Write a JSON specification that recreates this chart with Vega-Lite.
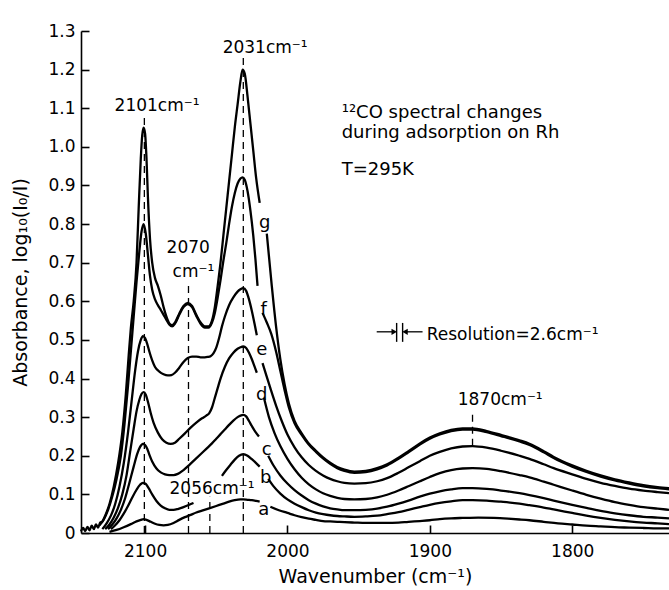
{
"$schema": "https://vega.github.io/schema/vega-lite/v6.json",
"width": 588, "height": 502,
"autosize": {"type": "none"},
"padding": {"left": 81, "top": 31, "right": 0, "bottom": 57},
"config": {
 "view": {"stroke": null},
 "axis": {"grid": false, "domainColor": "black", "tickColor": "black", "labelColor": "black", "titleColor": "black",
  "labelFont": "DejaVu Sans", "titleFont": "DejaVu Sans", "titleFontWeight": "normal", "labelFontSize": 17, "titleFontSize": 19,
  "domainWidth": 1.6, "tickWidth": 1.6, "tickSize": -8},
 "text": {"font": "DejaVu Sans", "color": "black"}
},
"datasets": {
 "spectra": [
{"c":"g","s":1,"x":2145,"y":0.004},{"c":"g","s":1,"x":2143.5,"y":0.013},{"c":"g","s":1,"x":2142,"y":0.005},{"c":"g","s":1,"x":2140.5,"y":0.016},{"c":"g","s":1,"x":2139,"y":0.007},{"c":"g","s":1,"x":2137.5,"y":0.019},{"c":"g","s":1,"x":2136,"y":0.01},{"c":"g","s":1,"x":2134.5,"y":0.022},{"c":"g","s":1,"x":2133,"y":0.014},{"c":"g","s":1,"x":2131.5,"y":0.027},{"c":"g","s":1,"x":2130,"y":0.03},{"c":"g","s":1,"x":2128,"y":0.045},{"c":"g","s":1,"x":2125,"y":0.075},{"c":"g","s":1,"x":2122,"y":0.12},{"c":"g","s":1,"x":2119,"y":0.18},{"c":"g","s":1,"x":2116,"y":0.26},{"c":"g","s":1,"x":2113.5,"y":0.36},{"c":"g","s":1,"x":2111.5,"y":0.46},{"c":"g","s":1,"x":2110,"y":0.53},{"c":"g","s":1,"x":2108,"y":0.6},{"c":"g","s":1,"x":2106,"y":0.7},{"c":"g","s":1,"x":2104.5,"y":0.84},{"c":"g","s":1,"x":2103,"y":0.97},{"c":"g","s":1,"x":2102,"y":1.03},{"c":"g","s":1,"x":2101,"y":1.05},{"c":"g","s":1,"x":2100,"y":1.035},{"c":"g","s":1,"x":2099,"y":0.97},{"c":"g","s":1,"x":2098,"y":0.87},{"c":"g","s":1,"x":2096.5,"y":0.76},{"c":"g","s":1,"x":2095,"y":0.7},{"c":"g","s":1,"x":2093,"y":0.66},{"c":"g","s":1,"x":2091,"y":0.64},{"c":"g","s":1,"x":2089,"y":0.615},{"c":"g","s":1,"x":2087,"y":0.585},{"c":"g","s":1,"x":2085,"y":0.56},{"c":"g","s":1,"x":2083,"y":0.543},{"c":"g","s":1,"x":2081,"y":0.538},{"c":"g","s":1,"x":2079,"y":0.545},{"c":"g","s":1,"x":2076,"y":0.568},{"c":"g","s":1,"x":2073,"y":0.588},{"c":"g","s":1,"x":2070,"y":0.596},{"c":"g","s":1,"x":2067,"y":0.588},{"c":"g","s":1,"x":2064,"y":0.565},{"c":"g","s":1,"x":2061,"y":0.545},{"c":"g","s":1,"x":2058,"y":0.535},{"c":"g","s":1,"x":2055.5,"y":0.535},{"c":"g","s":1,"x":2053,"y":0.55},{"c":"g","s":1,"x":2051,"y":0.585},{"c":"g","s":1,"x":2049,"y":0.64},{"c":"g","s":1,"x":2047,"y":0.7},{"c":"g","s":1,"x":2045,"y":0.77},{"c":"g","s":1,"x":2043,"y":0.84},{"c":"g","s":1,"x":2041,"y":0.91},{"c":"g","s":1,"x":2039,"y":0.98},{"c":"g","s":1,"x":2037,"y":1.05},{"c":"g","s":1,"x":2035,"y":1.11},{"c":"g","s":1,"x":2033,"y":1.17},{"c":"g","s":1,"x":2031.5,"y":1.2},{"c":"g","s":1,"x":2030,"y":1.19},{"c":"g","s":1,"x":2028,"y":1.13},{"c":"g","s":1,"x":2026,"y":1.06},{"c":"g","s":1,"x":2024,"y":0.99},{"c":"g","s":1,"x":2022,"y":0.92},{"c":"g","s":1,"x":2019.5,"y":0.855},
{"c":"g","s":2,"x":2014.5,"y":0.775},{"c":"g","s":2,"x":2011,"y":0.64},{"c":"g","s":2,"x":2008,"y":0.535},{"c":"g","s":2,"x":2005,"y":0.45},{"c":"g","s":2,"x":2002,"y":0.385},{"c":"g","s":2,"x":1999,"y":0.335},{"c":"g","s":2,"x":1995,"y":0.29},{"c":"g","s":2,"x":1990,"y":0.258},{"c":"g","s":2,"x":1985.5,"y":0.234},{"c":"g","s":2,"x":1980,"y":0.213},{"c":"g","s":2,"x":1975,"y":0.196},{"c":"g","s":2,"x":1970,"y":0.182},{"c":"g","s":2,"x":1965,"y":0.171},{"c":"g","s":2,"x":1960,"y":0.164},{"c":"g","s":2,"x":1953,"y":0.159},{"c":"g","s":2,"x":1945,"y":0.161},{"c":"g","s":2,"x":1937,"y":0.168},{"c":"g","s":2,"x":1930,"y":0.178},{"c":"g","s":2,"x":1922,"y":0.195},{"c":"g","s":2,"x":1915,"y":0.212},{"c":"g","s":2,"x":1907,"y":0.232},{"c":"g","s":2,"x":1900,"y":0.247},{"c":"g","s":2,"x":1893,"y":0.258},{"c":"g","s":2,"x":1885,"y":0.267},{"c":"g","s":2,"x":1877,"y":0.271},{"c":"g","s":2,"x":1870,"y":0.271},{"c":"g","s":2,"x":1860,"y":0.264},{"c":"g","s":2,"x":1850,"y":0.254},{"c":"g","s":2,"x":1837,"y":0.24},{"c":"g","s":2,"x":1830,"y":0.231},{"c":"g","s":2,"x":1820,"y":0.212},{"c":"g","s":2,"x":1813,"y":0.197},{"c":"g","s":2,"x":1800,"y":0.175},{"c":"g","s":2,"x":1790,"y":0.161},{"c":"g","s":2,"x":1780,"y":0.149},{"c":"g","s":2,"x":1770,"y":0.139},{"c":"g","s":2,"x":1760,"y":0.131},{"c":"g","s":2,"x":1750,"y":0.124},{"c":"g","s":2,"x":1740,"y":0.119},{"c":"g","s":2,"x":1732,"y":0.116},
{"c":"f","s":1,"x":2132,"y":0.02},{"c":"f","s":1,"x":2129,"y":0.035},{"c":"f","s":1,"x":2126,"y":0.06},{"c":"f","s":1,"x":2123,"y":0.095},{"c":"f","s":1,"x":2120,"y":0.14},{"c":"f","s":1,"x":2117,"y":0.2},{"c":"f","s":1,"x":2114.5,"y":0.28},{"c":"f","s":1,"x":2112,"y":0.38},{"c":"f","s":1,"x":2110,"y":0.47},{"c":"f","s":1,"x":2108,"y":0.56},{"c":"f","s":1,"x":2106,"y":0.65},{"c":"f","s":1,"x":2104,"y":0.73},{"c":"f","s":1,"x":2102.5,"y":0.78},{"c":"f","s":1,"x":2101,"y":0.8},{"c":"f","s":1,"x":2099.5,"y":0.775},{"c":"f","s":1,"x":2098,"y":0.72},{"c":"f","s":1,"x":2096.5,"y":0.665},{"c":"f","s":1,"x":2095,"y":0.63},{"c":"f","s":1,"x":2093,"y":0.605},{"c":"f","s":1,"x":2091,"y":0.59},{"c":"f","s":1,"x":2089,"y":0.578},{"c":"f","s":1,"x":2087,"y":0.565},{"c":"f","s":1,"x":2085,"y":0.552},{"c":"f","s":1,"x":2083,"y":0.54},{"c":"f","s":1,"x":2081,"y":0.535},{"c":"f","s":1,"x":2079,"y":0.542},{"c":"f","s":1,"x":2076,"y":0.565},{"c":"f","s":1,"x":2073,"y":0.585},{"c":"f","s":1,"x":2070,"y":0.593},{"c":"f","s":1,"x":2067,"y":0.585},{"c":"f","s":1,"x":2064,"y":0.562},{"c":"f","s":1,"x":2061,"y":0.542},{"c":"f","s":1,"x":2058,"y":0.532},{"c":"f","s":1,"x":2055.5,"y":0.532},{"c":"f","s":1,"x":2053,"y":0.545},{"c":"f","s":1,"x":2051,"y":0.57},{"c":"f","s":1,"x":2049,"y":0.61},{"c":"f","s":1,"x":2047,"y":0.655},{"c":"f","s":1,"x":2045,"y":0.705},{"c":"f","s":1,"x":2043,"y":0.75},{"c":"f","s":1,"x":2041,"y":0.8},{"c":"f","s":1,"x":2039,"y":0.845},{"c":"f","s":1,"x":2037,"y":0.88},{"c":"f","s":1,"x":2035,"y":0.905},{"c":"f","s":1,"x":2033,"y":0.918},{"c":"f","s":1,"x":2031.5,"y":0.921},{"c":"f","s":1,"x":2030,"y":0.915},{"c":"f","s":1,"x":2028,"y":0.885},{"c":"f","s":1,"x":2026,"y":0.835},{"c":"f","s":1,"x":2024,"y":0.77},{"c":"f","s":1,"x":2022.5,"y":0.71},{"c":"f","s":1,"x":2021,"y":0.64},
{"c":"f","s":2,"x":2017.5,"y":0.57},{"c":"f","s":2,"x":2014.5,"y":0.545},{"c":"f","s":2,"x":2011.3,"y":0.515},{"c":"f","s":2,"x":2008,"y":0.47},{"c":"f","s":2,"x":2005,"y":0.42},{"c":"f","s":2,"x":2002,"y":0.37},{"c":"f","s":2,"x":1999,"y":0.325},{"c":"f","s":2,"x":1995,"y":0.284},{"c":"f","s":2,"x":1990,"y":0.254},{"c":"f","s":2,"x":1985.5,"y":0.231},{"c":"f","s":2,"x":1980,"y":0.21},{"c":"f","s":2,"x":1975,"y":0.193},{"c":"f","s":2,"x":1970,"y":0.179},{"c":"f","s":2,"x":1965,"y":0.168},{"c":"f","s":2,"x":1960,"y":0.161},{"c":"f","s":2,"x":1953,"y":0.156},{"c":"f","s":2,"x":1945,"y":0.158},{"c":"f","s":2,"x":1937,"y":0.165},{"c":"f","s":2,"x":1930,"y":0.175},{"c":"f","s":2,"x":1922,"y":0.192},{"c":"f","s":2,"x":1915,"y":0.209},{"c":"f","s":2,"x":1907,"y":0.229},{"c":"f","s":2,"x":1900,"y":0.244},{"c":"f","s":2,"x":1893,"y":0.255},{"c":"f","s":2,"x":1885,"y":0.264},{"c":"f","s":2,"x":1877,"y":0.268},{"c":"f","s":2,"x":1870,"y":0.268},{"c":"f","s":2,"x":1860,"y":0.261},{"c":"f","s":2,"x":1850,"y":0.251},{"c":"f","s":2,"x":1837,"y":0.237},{"c":"f","s":2,"x":1830,"y":0.228},{"c":"f","s":2,"x":1820,"y":0.209},{"c":"f","s":2,"x":1813,"y":0.194},{"c":"f","s":2,"x":1800,"y":0.172},{"c":"f","s":2,"x":1790,"y":0.158},{"c":"f","s":2,"x":1780,"y":0.146},{"c":"f","s":2,"x":1770,"y":0.136},{"c":"f","s":2,"x":1760,"y":0.128},{"c":"f","s":2,"x":1750,"y":0.121},{"c":"f","s":2,"x":1740,"y":0.116},{"c":"f","s":2,"x":1732,"y":0.113},
{"c":"e","s":1,"x":2130,"y":0.01},{"c":"e","s":1,"x":2127,"y":0.025},{"c":"e","s":1,"x":2124,"y":0.045},{"c":"e","s":1,"x":2121,"y":0.075},{"c":"e","s":1,"x":2118,"y":0.12},{"c":"e","s":1,"x":2115,"y":0.18},{"c":"e","s":1,"x":2112,"y":0.26},{"c":"e","s":1,"x":2109.5,"y":0.34},{"c":"e","s":1,"x":2107,"y":0.42},{"c":"e","s":1,"x":2105,"y":0.47},{"c":"e","s":1,"x":2103,"y":0.5},{"c":"e","s":1,"x":2101.5,"y":0.51},{"c":"e","s":1,"x":2100,"y":0.505},{"c":"e","s":1,"x":2098.5,"y":0.49},{"c":"e","s":1,"x":2097,"y":0.47},{"c":"e","s":1,"x":2095,"y":0.447},{"c":"e","s":1,"x":2093,"y":0.43},{"c":"e","s":1,"x":2090,"y":0.418},{"c":"e","s":1,"x":2087,"y":0.411},{"c":"e","s":1,"x":2084,"y":0.408},{"c":"e","s":1,"x":2081.5,"y":0.409},{"c":"e","s":1,"x":2079,"y":0.415},{"c":"e","s":1,"x":2076,"y":0.428},{"c":"e","s":1,"x":2073,"y":0.443},{"c":"e","s":1,"x":2070,"y":0.453},{"c":"e","s":1,"x":2067,"y":0.457},{"c":"e","s":1,"x":2064,"y":0.457},{"c":"e","s":1,"x":2061,"y":0.455},{"c":"e","s":1,"x":2058,"y":0.455},{"c":"e","s":1,"x":2056,"y":0.456},{"c":"e","s":1,"x":2054,"y":0.458},{"c":"e","s":1,"x":2052,"y":0.465},{"c":"e","s":1,"x":2050,"y":0.48},{"c":"e","s":1,"x":2048,"y":0.505},{"c":"e","s":1,"x":2046,"y":0.535},{"c":"e","s":1,"x":2044,"y":0.56},{"c":"e","s":1,"x":2041,"y":0.59},{"c":"e","s":1,"x":2038,"y":0.61},{"c":"e","s":1,"x":2035,"y":0.625},{"c":"e","s":1,"x":2033,"y":0.631},{"c":"e","s":1,"x":2031,"y":0.634},{"c":"e","s":1,"x":2029,"y":0.627},{"c":"e","s":1,"x":2027,"y":0.605},{"c":"e","s":1,"x":2025,"y":0.575},{"c":"e","s":1,"x":2023,"y":0.54},{"c":"e","s":1,"x":2021.5,"y":0.512},
{"c":"e","s":2,"x":2017.5,"y":0.44},{"c":"e","s":2,"x":2015,"y":0.41},{"c":"e","s":2,"x":2012,"y":0.375},{"c":"e","s":2,"x":2008,"y":0.33},{"c":"e","s":2,"x":2004,"y":0.29},{"c":"e","s":2,"x":2000,"y":0.255},{"c":"e","s":2,"x":1995,"y":0.222},{"c":"e","s":2,"x":1990,"y":0.196},{"c":"e","s":2,"x":1985,"y":0.176},{"c":"e","s":2,"x":1980,"y":0.161},{"c":"e","s":2,"x":1975,"y":0.149},{"c":"e","s":2,"x":1970,"y":0.14},{"c":"e","s":2,"x":1965,"y":0.134},{"c":"e","s":2,"x":1960,"y":0.13},{"c":"e","s":2,"x":1953,"y":0.128},{"c":"e","s":2,"x":1945,"y":0.129},{"c":"e","s":2,"x":1937,"y":0.134},{"c":"e","s":2,"x":1930,"y":0.142},{"c":"e","s":2,"x":1922,"y":0.156},{"c":"e","s":2,"x":1915,"y":0.17},{"c":"e","s":2,"x":1907,"y":0.186},{"c":"e","s":2,"x":1900,"y":0.2},{"c":"e","s":2,"x":1893,"y":0.21},{"c":"e","s":2,"x":1885,"y":0.219},{"c":"e","s":2,"x":1877,"y":0.224},{"c":"e","s":2,"x":1870,"y":0.225},{"c":"e","s":2,"x":1860,"y":0.221},{"c":"e","s":2,"x":1850,"y":0.213},{"c":"e","s":2,"x":1837,"y":0.2},{"c":"e","s":2,"x":1830,"y":0.192},{"c":"e","s":2,"x":1820,"y":0.178},{"c":"e","s":2,"x":1813,"y":0.168},{"c":"e","s":2,"x":1800,"y":0.152},{"c":"e","s":2,"x":1790,"y":0.14},{"c":"e","s":2,"x":1780,"y":0.13},{"c":"e","s":2,"x":1770,"y":0.122},{"c":"e","s":2,"x":1760,"y":0.115},{"c":"e","s":2,"x":1750,"y":0.11},{"c":"e","s":2,"x":1740,"y":0.106},{"c":"e","s":2,"x":1732,"y":0.103},
{"c":"d","s":1,"x":2128,"y":0.01},{"c":"d","s":1,"x":2125,"y":0.022},{"c":"d","s":1,"x":2122,"y":0.04},{"c":"d","s":1,"x":2119,"y":0.065},{"c":"d","s":1,"x":2116,"y":0.1},{"c":"d","s":1,"x":2113,"y":0.15},{"c":"d","s":1,"x":2110.5,"y":0.21},{"c":"d","s":1,"x":2108,"y":0.27},{"c":"d","s":1,"x":2106,"y":0.315},{"c":"d","s":1,"x":2104,"y":0.345},{"c":"d","s":1,"x":2102.5,"y":0.36},{"c":"d","s":1,"x":2101,"y":0.365},{"c":"d","s":1,"x":2099.5,"y":0.358},{"c":"d","s":1,"x":2098,"y":0.34},{"c":"d","s":1,"x":2096,"y":0.31},{"c":"d","s":1,"x":2094,"y":0.285},{"c":"d","s":1,"x":2091,"y":0.26},{"c":"d","s":1,"x":2088,"y":0.243},{"c":"d","s":1,"x":2085,"y":0.234},{"c":"d","s":1,"x":2082,"y":0.231},{"c":"d","s":1,"x":2079,"y":0.234},{"c":"d","s":1,"x":2076,"y":0.244},{"c":"d","s":1,"x":2072,"y":0.258},{"c":"d","s":1,"x":2068,"y":0.273},{"c":"d","s":1,"x":2064,"y":0.286},{"c":"d","s":1,"x":2060,"y":0.297},{"c":"d","s":1,"x":2057,"y":0.304},{"c":"d","s":1,"x":2055,"y":0.31},{"c":"d","s":1,"x":2053,"y":0.325},{"c":"d","s":1,"x":2051,"y":0.35},{"c":"d","s":1,"x":2049,"y":0.375},{"c":"d","s":1,"x":2047,"y":0.4},{"c":"d","s":1,"x":2044,"y":0.43},{"c":"d","s":1,"x":2041,"y":0.452},{"c":"d","s":1,"x":2038,"y":0.467},{"c":"d","s":1,"x":2035,"y":0.477},{"c":"d","s":1,"x":2033,"y":0.481},{"c":"d","s":1,"x":2031,"y":0.483},{"c":"d","s":1,"x":2029,"y":0.479},{"c":"d","s":1,"x":2027,"y":0.467},{"c":"d","s":1,"x":2025,"y":0.45},{"c":"d","s":1,"x":2023,"y":0.43},{"c":"d","s":1,"x":2021.5,"y":0.415},
{"c":"d","s":2,"x":2016.5,"y":0.35},{"c":"d","s":2,"x":2013,"y":0.3},{"c":"d","s":2,"x":2009,"y":0.258},{"c":"d","s":2,"x":2005,"y":0.225},{"c":"d","s":2,"x":2000,"y":0.192},{"c":"d","s":2,"x":1995,"y":0.165},{"c":"d","s":2,"x":1990,"y":0.143},{"c":"d","s":2,"x":1985,"y":0.126},{"c":"d","s":2,"x":1980,"y":0.113},{"c":"d","s":2,"x":1975,"y":0.103},{"c":"d","s":2,"x":1970,"y":0.096},{"c":"d","s":2,"x":1965,"y":0.091},{"c":"d","s":2,"x":1960,"y":0.088},{"c":"d","s":2,"x":1953,"y":0.087},{"c":"d","s":2,"x":1945,"y":0.088},{"c":"d","s":2,"x":1937,"y":0.092},{"c":"d","s":2,"x":1930,"y":0.099},{"c":"d","s":2,"x":1922,"y":0.11},{"c":"d","s":2,"x":1915,"y":0.121},{"c":"d","s":2,"x":1907,"y":0.134},{"c":"d","s":2,"x":1900,"y":0.145},{"c":"d","s":2,"x":1893,"y":0.155},{"c":"d","s":2,"x":1885,"y":0.163},{"c":"d","s":2,"x":1877,"y":0.167},{"c":"d","s":2,"x":1870,"y":0.168},{"c":"d","s":2,"x":1860,"y":0.166},{"c":"d","s":2,"x":1850,"y":0.16},{"c":"d","s":2,"x":1837,"y":0.15},{"c":"d","s":2,"x":1830,"y":0.144},{"c":"d","s":2,"x":1820,"y":0.133},{"c":"d","s":2,"x":1813,"y":0.125},{"c":"d","s":2,"x":1800,"y":0.11},{"c":"d","s":2,"x":1790,"y":0.099},{"c":"d","s":2,"x":1780,"y":0.089},{"c":"d","s":2,"x":1770,"y":0.08},{"c":"d","s":2,"x":1760,"y":0.073},{"c":"d","s":2,"x":1750,"y":0.067},{"c":"d","s":2,"x":1740,"y":0.063},{"c":"d","s":2,"x":1732,"y":0.06},
{"c":"c","s":1,"x":2126,"y":0.01},{"c":"c","s":1,"x":2123,"y":0.022},{"c":"c","s":1,"x":2120,"y":0.038},{"c":"c","s":1,"x":2117,"y":0.06},{"c":"c","s":1,"x":2114,"y":0.09},{"c":"c","s":1,"x":2111,"y":0.13},{"c":"c","s":1,"x":2108,"y":0.172},{"c":"c","s":1,"x":2105.5,"y":0.205},{"c":"c","s":1,"x":2103.5,"y":0.223},{"c":"c","s":1,"x":2101.5,"y":0.231},{"c":"c","s":1,"x":2100,"y":0.228},{"c":"c","s":1,"x":2098.5,"y":0.218},{"c":"c","s":1,"x":2097,"y":0.203},{"c":"c","s":1,"x":2095,"y":0.185},{"c":"c","s":1,"x":2092,"y":0.167},{"c":"c","s":1,"x":2089,"y":0.157},{"c":"c","s":1,"x":2086,"y":0.152},{"c":"c","s":1,"x":2083,"y":0.15},{"c":"c","s":1,"x":2080,"y":0.15},{"c":"c","s":1,"x":2077,"y":0.153},{"c":"c","s":1,"x":2073,"y":0.163},{"c":"c","s":1,"x":2069,"y":0.176},{"c":"c","s":1,"x":2065,"y":0.19},{"c":"c","s":1,"x":2061,"y":0.204},{"c":"c","s":1,"x":2057,"y":0.218},{"c":"c","s":1,"x":2053,"y":0.232},{"c":"c","s":1,"x":2050,"y":0.244},{"c":"c","s":1,"x":2047,"y":0.256},{"c":"c","s":1,"x":2044,"y":0.268},{"c":"c","s":1,"x":2041,"y":0.28},{"c":"c","s":1,"x":2038,"y":0.291},{"c":"c","s":1,"x":2035,"y":0.3},{"c":"c","s":1,"x":2033,"y":0.304},{"c":"c","s":1,"x":2031,"y":0.306},{"c":"c","s":1,"x":2029,"y":0.302},{"c":"c","s":1,"x":2027,"y":0.29},{"c":"c","s":1,"x":2025,"y":0.277},{"c":"c","s":1,"x":2022.5,"y":0.262},{"c":"c","s":1,"x":2020,"y":0.25},
{"c":"c","s":2,"x":2013.5,"y":0.2},{"c":"c","s":2,"x":2010,"y":0.176},{"c":"c","s":2,"x":2005,"y":0.149},{"c":"c","s":2,"x":2000,"y":0.128},{"c":"c","s":2,"x":1995,"y":0.111},{"c":"c","s":2,"x":1990,"y":0.097},{"c":"c","s":2,"x":1985,"y":0.085},{"c":"c","s":2,"x":1980,"y":0.076},{"c":"c","s":2,"x":1975,"y":0.069},{"c":"c","s":2,"x":1970,"y":0.064},{"c":"c","s":2,"x":1965,"y":0.061},{"c":"c","s":2,"x":1960,"y":0.059},{"c":"c","s":2,"x":1953,"y":0.059},{"c":"c","s":2,"x":1945,"y":0.06},{"c":"c","s":2,"x":1937,"y":0.063},{"c":"c","s":2,"x":1930,"y":0.068},{"c":"c","s":2,"x":1922,"y":0.076},{"c":"c","s":2,"x":1915,"y":0.084},{"c":"c","s":2,"x":1907,"y":0.094},{"c":"c","s":2,"x":1900,"y":0.102},{"c":"c","s":2,"x":1893,"y":0.108},{"c":"c","s":2,"x":1885,"y":0.113},{"c":"c","s":2,"x":1877,"y":0.116},{"c":"c","s":2,"x":1870,"y":0.116},{"c":"c","s":2,"x":1860,"y":0.114},{"c":"c","s":2,"x":1850,"y":0.11},{"c":"c","s":2,"x":1837,"y":0.103},{"c":"c","s":2,"x":1830,"y":0.098},{"c":"c","s":2,"x":1820,"y":0.09},{"c":"c","s":2,"x":1813,"y":0.084},{"c":"c","s":2,"x":1800,"y":0.073},{"c":"c","s":2,"x":1790,"y":0.065},{"c":"c","s":2,"x":1780,"y":0.057},{"c":"c","s":2,"x":1770,"y":0.051},{"c":"c","s":2,"x":1760,"y":0.046},{"c":"c","s":2,"x":1750,"y":0.042},{"c":"c","s":2,"x":1740,"y":0.04},{"c":"c","s":2,"x":1732,"y":0.038},
{"c":"b","s":1,"x":2124,"y":0.01},{"c":"b","s":1,"x":2121,"y":0.02},{"c":"b","s":1,"x":2118,"y":0.033},{"c":"b","s":1,"x":2115,"y":0.05},{"c":"b","s":1,"x":2112,"y":0.07},{"c":"b","s":1,"x":2109,"y":0.092},{"c":"b","s":1,"x":2106,"y":0.112},{"c":"b","s":1,"x":2103.5,"y":0.125},{"c":"b","s":1,"x":2101.5,"y":0.13},{"c":"b","s":1,"x":2099.5,"y":0.127},{"c":"b","s":1,"x":2097.5,"y":0.116},{"c":"b","s":1,"x":2095,"y":0.1},{"c":"b","s":1,"x":2092,"y":0.083},{"c":"b","s":1,"x":2089,"y":0.071},{"c":"b","s":1,"x":2086,"y":0.064},{"c":"b","s":1,"x":2083,"y":0.06},{"c":"b","s":1,"x":2080,"y":0.06},{"c":"b","s":1,"x":2077,"y":0.062},{"c":"b","s":1,"x":2073,"y":0.067},{"c":"b","s":1,"x":2069,"y":0.073},{"c":"b","s":1,"x":2066,"y":0.078},
{"c":"b","s":2,"x":2046,"y":0.148},{"c":"b","s":2,"x":2043,"y":0.163},{"c":"b","s":2,"x":2040,"y":0.177},{"c":"b","s":2,"x":2037,"y":0.19},{"c":"b","s":2,"x":2034,"y":0.2},{"c":"b","s":2,"x":2031,"y":0.204},{"c":"b","s":2,"x":2028,"y":0.2},{"c":"b","s":2,"x":2025,"y":0.191},{"c":"b","s":2,"x":2022,"y":0.181},{"c":"b","s":2,"x":2019.5,"y":0.172},
{"c":"b","s":3,"x":2013.5,"y":0.14},{"c":"b","s":3,"x":2010,"y":0.122},{"c":"b","s":3,"x":2005,"y":0.102},{"c":"b","s":3,"x":2000,"y":0.087},{"c":"b","s":3,"x":1995,"y":0.076},{"c":"b","s":3,"x":1990,"y":0.067},{"c":"b","s":3,"x":1985,"y":0.059},{"c":"b","s":3,"x":1980,"y":0.053},{"c":"b","s":3,"x":1975,"y":0.049},{"c":"b","s":3,"x":1970,"y":0.046},{"c":"b","s":3,"x":1965,"y":0.044},{"c":"b","s":3,"x":1960,"y":0.043},{"c":"b","s":3,"x":1953,"y":0.042},{"c":"b","s":3,"x":1945,"y":0.043},{"c":"b","s":3,"x":1937,"y":0.045},{"c":"b","s":3,"x":1930,"y":0.049},{"c":"b","s":3,"x":1922,"y":0.054},{"c":"b","s":3,"x":1915,"y":0.06},{"c":"b","s":3,"x":1907,"y":0.067},{"c":"b","s":3,"x":1900,"y":0.073},{"c":"b","s":3,"x":1893,"y":0.078},{"c":"b","s":3,"x":1885,"y":0.082},{"c":"b","s":3,"x":1877,"y":0.085},{"c":"b","s":3,"x":1870,"y":0.085},{"c":"b","s":3,"x":1860,"y":0.084},{"c":"b","s":3,"x":1850,"y":0.081},{"c":"b","s":3,"x":1837,"y":0.076},{"c":"b","s":3,"x":1830,"y":0.072},{"c":"b","s":3,"x":1820,"y":0.066},{"c":"b","s":3,"x":1813,"y":0.061},{"c":"b","s":3,"x":1800,"y":0.052},{"c":"b","s":3,"x":1790,"y":0.045},{"c":"b","s":3,"x":1780,"y":0.039},{"c":"b","s":3,"x":1770,"y":0.034},{"c":"b","s":3,"x":1760,"y":0.03},{"c":"b","s":3,"x":1750,"y":0.027},{"c":"b","s":3,"x":1740,"y":0.025},{"c":"b","s":3,"x":1732,"y":0.023},
{"c":"a","s":1,"x":2125,"y":0.003},{"c":"a","s":1,"x":2120,"y":0.008},{"c":"a","s":1,"x":2115,"y":0.015},{"c":"a","s":1,"x":2110,"y":0.023},{"c":"a","s":1,"x":2106,"y":0.03},{"c":"a","s":1,"x":2103,"y":0.034},{"c":"a","s":1,"x":2101,"y":0.036},{"c":"a","s":1,"x":2099,"y":0.034},{"c":"a","s":1,"x":2096,"y":0.029},{"c":"a","s":1,"x":2093,"y":0.024},{"c":"a","s":1,"x":2090,"y":0.021},{"c":"a","s":1,"x":2087,"y":0.02},{"c":"a","s":1,"x":2084,"y":0.021},{"c":"a","s":1,"x":2080,"y":0.026},{"c":"a","s":1,"x":2076,"y":0.034},{"c":"a","s":1,"x":2072,"y":0.041},{"c":"a","s":1,"x":2068,"y":0.047},{"c":"a","s":1,"x":2064,"y":0.053},{"c":"a","s":1,"x":2060,"y":0.058},{"c":"a","s":1,"x":2055,"y":0.064},{"c":"a","s":1,"x":2050,"y":0.07},{"c":"a","s":1,"x":2045,"y":0.076},{"c":"a","s":1,"x":2041,"y":0.081},{"c":"a","s":1,"x":2037,"y":0.085},{"c":"a","s":1,"x":2033,"y":0.087},{"c":"a","s":1,"x":2031,"y":0.087},{"c":"a","s":1,"x":2028,"y":0.086},{"c":"a","s":1,"x":2025,"y":0.085},{"c":"a","s":1,"x":2022,"y":0.083},{"c":"a","s":1,"x":2019.5,"y":0.081},
{"c":"a","s":2,"x":2012,"y":0.068},{"c":"a","s":2,"x":2006,"y":0.059},{"c":"a","s":2,"x":2000,"y":0.052},{"c":"a","s":2,"x":1995,"y":0.046},{"c":"a","s":2,"x":1990,"y":0.041},{"c":"a","s":2,"x":1985,"y":0.037},{"c":"a","s":2,"x":1980,"y":0.034},{"c":"a","s":2,"x":1975,"y":0.031},{"c":"a","s":2,"x":1970,"y":0.03},{"c":"a","s":2,"x":1965,"y":0.029},{"c":"a","s":2,"x":1960,"y":0.028},{"c":"a","s":2,"x":1953,"y":0.027},{"c":"a","s":2,"x":1945,"y":0.026},{"c":"a","s":2,"x":1937,"y":0.026},{"c":"a","s":2,"x":1930,"y":0.026},{"c":"a","s":2,"x":1922,"y":0.027},{"c":"a","s":2,"x":1915,"y":0.029},{"c":"a","s":2,"x":1907,"y":0.031},{"c":"a","s":2,"x":1900,"y":0.033},{"c":"a","s":2,"x":1893,"y":0.036},{"c":"a","s":2,"x":1885,"y":0.038},{"c":"a","s":2,"x":1877,"y":0.039},{"c":"a","s":2,"x":1866,"y":0.04},{"c":"a","s":2,"x":1855,"y":0.039},{"c":"a","s":2,"x":1845,"y":0.037},{"c":"a","s":2,"x":1837,"y":0.035},{"c":"a","s":2,"x":1830,"y":0.033},{"c":"a","s":2,"x":1820,"y":0.029},{"c":"a","s":2,"x":1810,"y":0.025},{"c":"a","s":2,"x":1800,"y":0.022},{"c":"a","s":2,"x":1790,"y":0.019},{"c":"a","s":2,"x":1780,"y":0.017},{"c":"a","s":2,"x":1770,"y":0.015},{"c":"a","s":2,"x":1760,"y":0.014},{"c":"a","s":2,"x":1750,"y":0.013},{"c":"a","s":2,"x":1740,"y":0.012},{"c":"a","s":2,"x":1732,"y":0.012}
 ],
 "dashes": [
  {"x": 2100.5, "y": 0, "y2": 1.085},
  {"x": 2069.5, "y": 0, "y2": 0.65},
  {"x": 2054.5, "y": 0, "y2": 0.094},
  {"x": 2031, "y": 0, "y2": 1.235},
  {"x": 1870, "y": 0.226, "y2": 0.31}
 ],
 "peaklabels": [
  {"x": 2121.4, "y": 1.093, "t": "2101cm⁻¹"},
  {"x": 2045.5, "y": 1.244, "t": "2031cm⁻¹"},
  {"x": 2084.9, "y": 0.725, "t": "2070"},
  {"x": 2080.7, "y": 0.663, "t": "cm⁻¹"},
  {"x": 2082.8, "y": 0.101, "t": "2056cm⁻¹"},
  {"x": 1880.4, "y": 0.332, "t": "1870cm⁻¹"},
  {"x": 1902.2, "y": 0.5, "t": "Resolution=2.6cm⁻¹"}
 ],
 "notes": [
  {"x": 1961.9, "y": 1.075, "t": "¹²CO spectral changes"},
  {"x": 1961.9, "y": 1.023, "t": "during adsorption on Rh"},
  {"x": 1961.9, "y": 0.927, "t": "T=295K"}
 ],
 "curvelabels": [
  {"x": 2016, "y": 0.79, "t": "g"},
  {"x": 2016.7, "y": 0.565, "t": "f"},
  {"x": 2018.1, "y": 0.461, "t": "e"},
  {"x": 2018.1, "y": 0.345, "t": "d"},
  {"x": 2014.6, "y": 0.202, "t": "c"},
  {"x": 2015.3, "y": 0.13, "t": "b"},
  {"x": 2016.7, "y": 0.047, "t": "a"}
 ],
 "resbars": [
  {"x": 1923.3, "y": 0.495, "y2": 0.544},
  {"x": 1919.1, "y": 0.495, "y2": 0.544}
 ],
 "resshafts": [
  {"x": 1937.3, "x2": 1925.5, "y": 0.521},
  {"x": 1917, "x2": 1905.1, "y": 0.521}
 ],
 "headR": [{"x": 1925.0, "y": 0.521}],
 "headL": [{"x": 1917.4, "y": 0.521}]
},
"encoding": {
 "x": {"field": "x", "type": "quantitative",
  "scale": {"domain": [1732, 2145], "reverse": true, "nice": false, "zero": false},
  "axis": {"title": "Wavenumber (cm⁻¹)", "values": [2100, 2000, 1900, 1800], "format": "d", "labelPadding": 18, "titlePadding": 8, "labelFlush": false}},
 "y": {"field": "y", "type": "quantitative",
  "scale": {"domain": [0, 1.3], "nice": false, "zero": true},
  "axis": {"title": "Absorbance, log₁₀(I₀/I)", "values": [0, 0.1, 0.2, 0.3, 0.4, 0.5, 0.6, 0.7, 0.8, 0.9, 1.0, 1.1, 1.2, 1.3],
   "labelExpr": "datum.value == 0 ? '0' : format(datum.value, '.1f')", "labelPadding": 14, "titlePadding": 17}}
},
"layer": [
 {"data": {"name": "dashes"}, "mark": {"type": "rule", "color": "black", "strokeWidth": 1.3, "strokeDash": [7, 5]},
  "encoding": {"y2": {"field": "y2"}}},
 {"data": {"name": "spectra"}, "mark": {"type": "line", "color": "black", "strokeWidth": 2.3, "interpolate": "monotone"},
  "encoding": {"detail": [{"field": "c"}, {"field": "s"}]}},
 {"data": {"name": "resbars"}, "mark": {"type": "rule", "color": "black", "strokeWidth": 1.4},
  "encoding": {"y2": {"field": "y2"}}},
 {"data": {"name": "resshafts"}, "mark": {"type": "rule", "color": "black", "strokeWidth": 1.3},
  "encoding": {"x2": {"field": "x2"}}},
 {"data": {"name": "headR"}, "mark": {"type": "point", "shape": "triangle-right", "filled": true, "color": "black", "size": 40, "opacity": 1}},
 {"data": {"name": "headL"}, "mark": {"type": "point", "shape": "triangle-left", "filled": true, "color": "black", "size": 40, "opacity": 1}},
 {"data": {"name": "peaklabels"}, "mark": {"type": "text", "align": "left", "baseline": "alphabetic", "fontSize": 17},
  "encoding": {"text": {"field": "t"}}},
 {"data": {"name": "notes"}, "mark": {"type": "text", "align": "left", "baseline": "alphabetic", "fontSize": 18},
  "encoding": {"text": {"field": "t"}}},
 {"data": {"name": "curvelabels"}, "mark": {"type": "text", "align": "center", "baseline": "alphabetic", "fontSize": 18},
  "encoding": {"text": {"field": "t"}}}
]
}
